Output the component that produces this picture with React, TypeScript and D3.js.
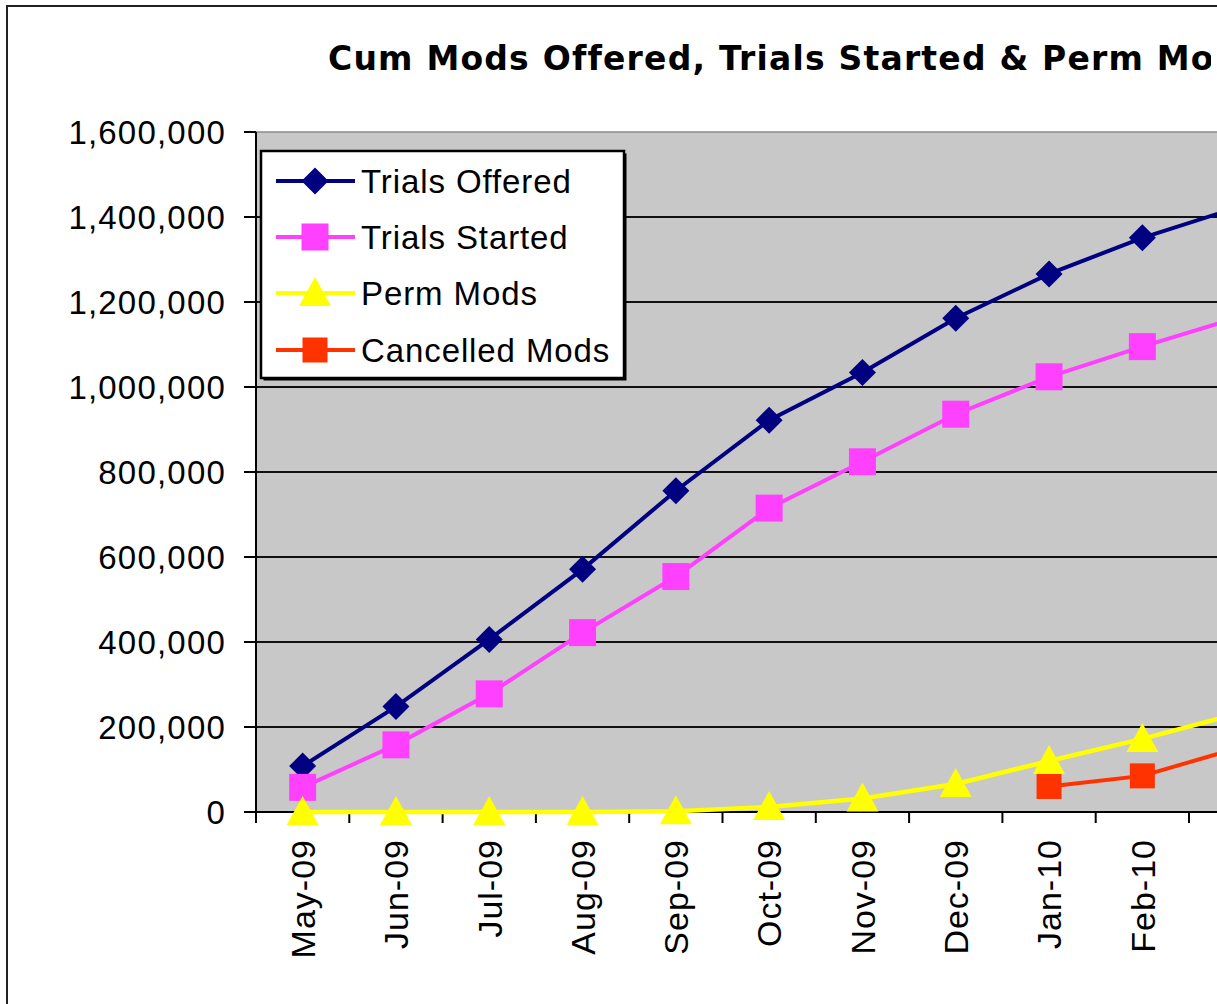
import React from "react";
import * as d3 from "d3";

const categories = ["May-09", "Jun-09", "Jul-09", "Aug-09", "Sep-09", "Oct-09", "Nov-09", "Dec-09", "Jan-10", "Feb-10", "Mar-10"];
const trialsOffered = [108000, 248000, 406000, 571000, 756000, 922000, 1034000, 1162000, 1266000, 1351000, 1421000];
const trialsStarted = [58000, 158000, 278000, 422000, 554000, 715000, 824000, 936000, 1024000, 1095000, 1162000];
const permMods = [0, 0, 0, 0, 2000, 12000, 32000, 66000, 120000, 172000, 230000];
const cancelledMods: (number | null)[] = [null, null, null, null, null, null, null, null, 60000, 85000, 149000];
const yTicks = [0, 200000, 400000, 600000, 800000, 1000000, 1200000, 1400000, 1600000];
const title = "Cum Mods Offered, Trials Started & Perm Mods";
const seriesNames = ["Trials Offered", "Trials Started", "Perm Mods", "Cancelled Mods"];

const W = 1217;
const H = 1004;
const plotLeft = 256;
const band = 93.3;
const plotTop = 132;
const plotBottom = 812;
const FONT = "'Liberation Sans', Arial, sans-serif";
const TITLE_FONT = "'DejaVu Sans', Verdana, sans-serif";

type Kind = "diamond" | "square" | "triangle" | "redsquare";

function marker(kind: Kind, cx: number, cy: number, color: string, key: string) {
  if (kind === "diamond") {
    const r = 13.5;
    return <path key={key} d={`M${cx},${cy - r}L${cx + r},${cy}L${cx},${cy + r}L${cx - r},${cy}Z`} fill={color} />;
  }
  if (kind === "square" || kind === "redsquare") {
    const s = kind === "square" ? 27 : 25;
    return <rect key={key} x={cx - s / 2} y={cy - s / 2} width={s} height={s} fill={color} />;
  }
  return <path key={key} d={`M${cx},${cy - 16}L${cx + 16},${cy + 13}L${cx - 16},${cy + 13}Z`} fill={color} />;
}

export default function App() {
  const x = d3.scaleBand<string>().domain(categories).range([plotLeft, plotLeft + band * categories.length]);
  const y = d3.scaleLinear().domain([0, 1600000]).range([plotBottom, plotTop]);
  const cx = (c: string) => (x(c) as number) + x.bandwidth() / 2;
  const plotRight = plotLeft + band * categories.length;
  const fmt = d3.format(",");

  const series = [
    { name: seriesNames[0], values: trialsOffered as (number | null)[], color: "#000080", kind: "diamond" as Kind },
    { name: seriesNames[1], values: trialsStarted as (number | null)[], color: "#FF40FF", kind: "square" as Kind },
    { name: seriesNames[2], values: permMods as (number | null)[], color: "#FFFF00", kind: "triangle" as Kind },
    { name: seriesNames[3], values: cancelledMods, color: "#FF3300", kind: "redsquare" as Kind },
  ];

  const line = d3
    .line<{ c: string; v: number | null }>()
    .defined((d) => d.v !== null)
    .x((d) => cx(d.c))
    .y((d) => y(d.v as number));

  const legendX = 261;
  const legendY = 151;
  const legendRows = [181, 237, 293, 350];

  return (
    <svg
      width={W}
      height={H}
      style={{ position: "fixed", left: 0, top: 0, display: "block", background: "#fff" }}
    >
      <defs>
        <clipPath id="titleClip">
          <rect x={0} y={0} width={1211} height={110} />
        </clipPath>
      </defs>
      <rect x={0} y={0} width={W} height={H} fill="#fff" />
      {/* outer chart frame */}
      <rect x={7} y={6} width={W + 20} height={H + 20} fill="#fff" stroke="#222" strokeWidth={2} />

      {/* title */}
      <g clipPath="url(#titleClip)">
        <text x={328} y={70} fontFamily={TITLE_FONT} fontWeight="bold" fontSize={33} letterSpacing={1.2} fill="#000">
          {title}
        </text>
      </g>

      {/* plot area */}
      <rect x={plotLeft} y={plotTop} width={plotRight - plotLeft} height={plotBottom - plotTop} fill="#C8C8C8" stroke="#8a8a8a" strokeWidth={1.5} />

      {/* gridlines */}
      {yTicks
        .filter((t) => t > 0 && t < 1600000)
        .map((t) => (
          <line key={"g" + t} x1={plotLeft} x2={plotRight} y1={y(t)} y2={y(t)} stroke="#111" strokeWidth={2} />
        ))}

      {/* axes */}
      <line x1={plotLeft} x2={plotLeft} y1={plotTop} y2={plotBottom + 11} stroke="#000" strokeWidth={2} />
      <line x1={plotLeft} x2={plotRight} y1={plotBottom} y2={plotBottom} stroke="#000" strokeWidth={2} />
      {yTicks.map((t) => (
        <g key={"yt" + t}>
          <line x1={plotLeft - 12} x2={plotLeft} y1={y(t)} y2={y(t)} stroke="#000" strokeWidth={2} />
          <text
            x={226}
            y={y(t)}
            dy="0.36em"
            textAnchor="end"
            fontFamily={FONT}
            fontSize={33}
            letterSpacing={1.2}
            fill="#000"
          >
            {fmt(t)}
          </text>
        </g>
      ))}
      {categories.map((c) => (
        <line
          key={"xt" + c}
          x1={(x(c) as number) + x.bandwidth()}
          x2={(x(c) as number) + x.bandwidth()}
          y1={plotBottom}
          y2={plotBottom + 11}
          stroke="#000"
          strokeWidth={2}
        />
      ))}
      {categories.map((c) => (
        <text
          key={"xl" + c}
          transform={`translate(${cx(c)},${plotBottom + 27}) rotate(-90)`}
          dy="0.36em"
          textAnchor="end"
          fontFamily={FONT}
          fontSize={34}
          letterSpacing={1}
          fill="#000"
        >
          {c}
        </text>
      ))}

      {/* series */}
      {series.map((s) => {
        const pts = categories.map((c, i) => ({ c, v: s.values[i] }));
        return (
          <g key={s.name}>
            <path d={line(pts) as string} fill="none" stroke={s.color} strokeWidth={s.kind === "triangle" ? 4.5 : 4} />
            {pts
              .filter((p) => p.v !== null)
              .map((p) => marker(s.kind, cx(p.c), y(p.v as number), s.color, s.name + p.c))}
          </g>
        );
      })}

      {/* legend */}
      <rect x={legendX + 2.5} y={legendY + 2.5} width={363} height={227} fill="#000" />
      <rect x={legendX} y={legendY} width={363} height={227} fill="#fff" stroke="#000" strokeWidth={2.5} />
      {series.map((s, i) => (
        <g key={"lg" + s.name}>
          <line x1={276} x2={355} y1={legendRows[i]} y2={legendRows[i]} stroke={s.color} strokeWidth={4} />
          {marker(s.kind, 315, legendRows[i], s.color, "lm" + i)}
          <text
            x={361}
            y={legendRows[i]}
            dy="0.36em"
            fontFamily={FONT}
            fontSize={33}
            letterSpacing={0.9}
            fill="#000"
          >
            {s.name}
          </text>
        </g>
      ))}
    </svg>
  );
}
